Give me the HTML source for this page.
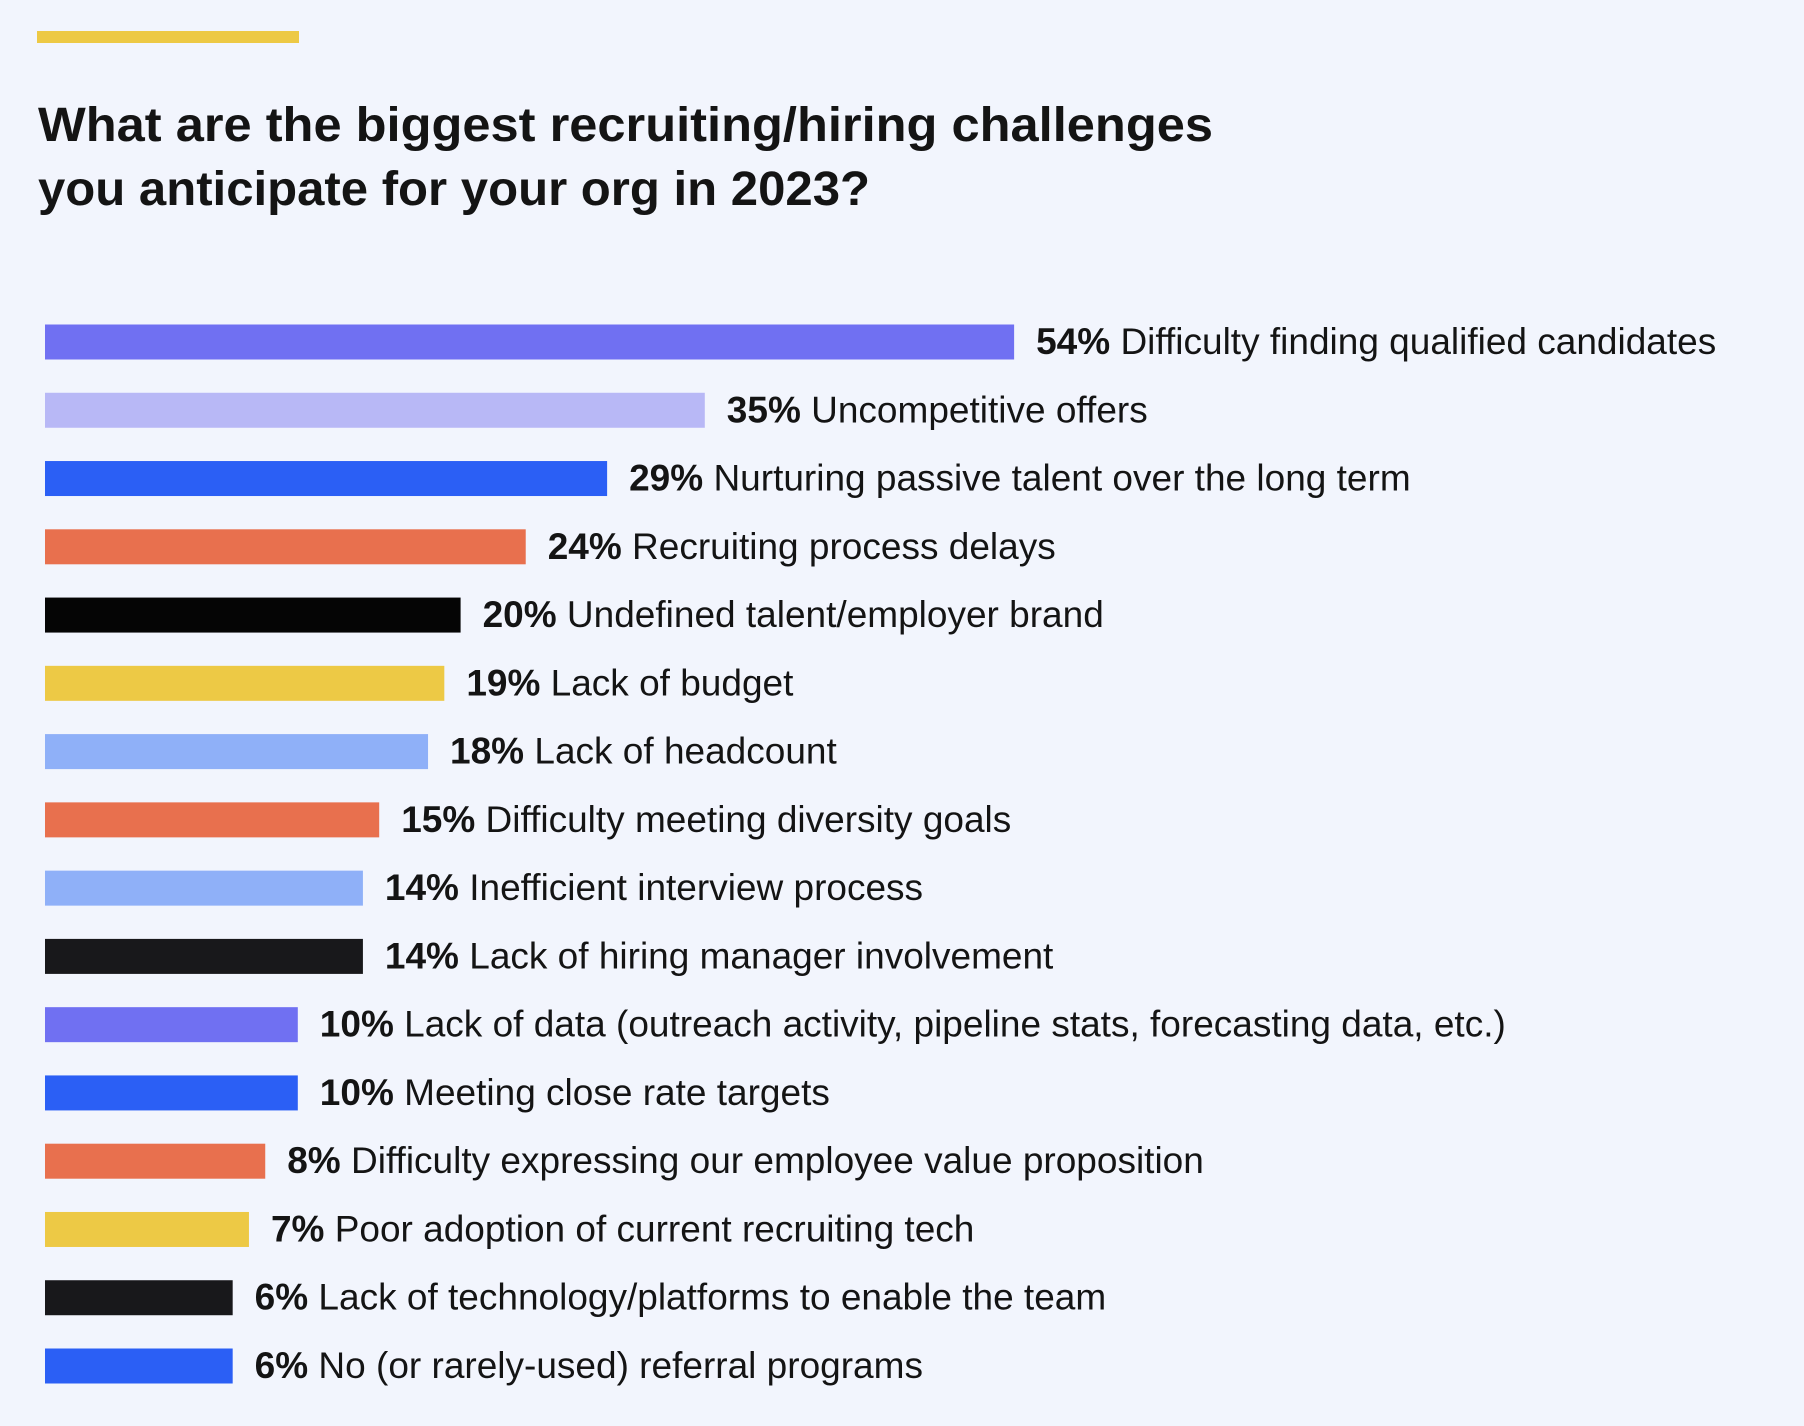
<!DOCTYPE html>
<html><head><meta charset="utf-8"><style>
html,body{margin:0;padding:0;background:#f2f5fd;}
svg{display:block;font-family:"Liberation Sans",sans-serif;}
</style></head><body>
<svg width="1804" height="1426" viewBox="0 0 1804 1426">
<rect x="0" y="0" width="1804" height="1426" fill="#f2f5fd"/>
<rect x="37" y="31" width="262" height="12" fill="#edc945"/>
<text x="38" y="141" font-size="48" font-weight="bold" fill="#141414" textLength="1175" lengthAdjust="spacingAndGlyphs">What are the biggest recruiting/hiring challenges</text>
<text x="38" y="205" font-size="48" font-weight="bold" fill="#141414" textLength="832" lengthAdjust="spacingAndGlyphs">you anticipate for your org in 2023?</text>
<g id="bars"></g>
</svg>
<script>
const categories = ["Difficulty finding qualified candidates","Uncompetitive offers","Nurturing passive talent over the long term","Recruiting process delays","Undefined talent/employer brand","Lack of budget","Lack of headcount","Difficulty meeting diversity goals","Inefficient interview process","Lack of hiring manager involvement","Lack of data (outreach activity, pipeline stats, forecasting data, etc.)","Meeting close rate targets","Difficulty expressing our employee value proposition","Poor adoption of current recruiting tech","Lack of technology/platforms to enable the team","No (or rarely-used) referral programs"];
const values = [54,35,29,24,20,19,18,15,14,14,10,10,8,7,6,6];
const valueLabels = ["54%","35%","29%","24%","20%","19%","18%","15%","14%","14%","10%","10%","8%","7%","6%","6%"];
const colors = ["#7070f2","#b8b8f6","#2b5ff5","#e8704e","#050505","#edc945","#8fb0f8","#e8704e","#8fb0f8","#18181b","#7070f2","#2b5ff5","#e8704e","#edc945","#18181b","#2b5ff5"];

const x0 = 45, barH = 35;
function xLen(v){ return 90 + 16.28*v; }
function yCenter(i){ return 342 + i*(1366-342)/(categories.length-1); }
const g = document.getElementById('bars');
const NS = 'http://www.w3.org/2000/svg';
categories.forEach((c,i)=>{
  const w = xLen(values[i]);
  const yc = yCenter(i);
  const r = document.createElementNS(NS,'rect');
  r.setAttribute('x', x0);
  r.setAttribute('y', yc - barH/2);
  r.setAttribute('width', w);
  r.setAttribute('height', barH);
  r.setAttribute('fill', colors[i]);
  
  
  g.appendChild(r);
  const t = document.createElementNS(NS,'text');
  t.setAttribute('x', x0 + w + 22);
  t.setAttribute('y', yc + 12);
  t.setAttribute('font-size', '37');
  t.setAttribute('fill', '#141414');
  
  
  const b = document.createElementNS(NS,'tspan');
  b.setAttribute('font-weight','bold');
  b.textContent = valueLabels[i];
  const s = document.createElementNS(NS,'tspan');
  s.textContent = ' ' + c;
  t.appendChild(b); t.appendChild(s);
  g.appendChild(t);
});
</script>
</body></html>
